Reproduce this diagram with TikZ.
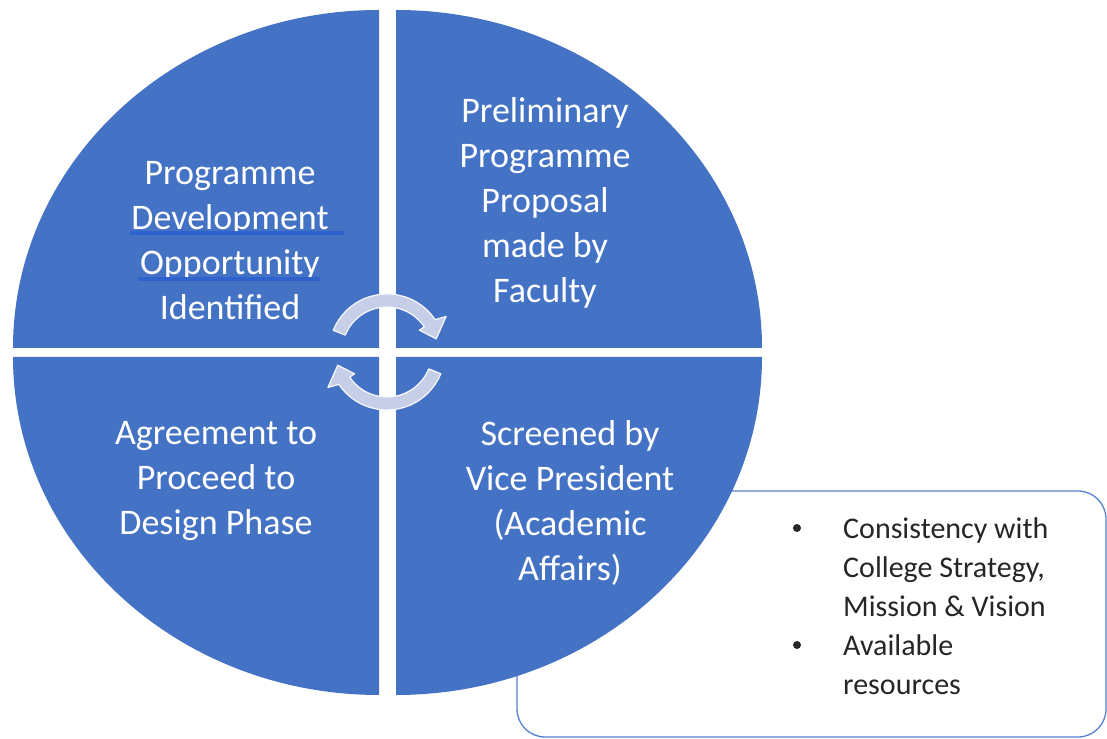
\documentclass[tikz,border=0pt]{standalone}
\usepackage{fontspec}
\setmainfont{Carlito}
\usepackage{tikz}
\definecolor{quadBlue}{HTML}{4472C4}
\definecolor{arrowGrey}{HTML}{C7CEE8}
\definecolor{markBlue}{HTML}{2F62CC}
\definecolor{boxBlue}{HTML}{5581D2}
\definecolor{itemGrey}{HTML}{262626}

\begin{document}
\begin{tikzpicture}
[x=1pt,y=1pt,
  quadDecorate/.style={fill=quadBlue},
  labelDecorate/.style={text=white,align=center,inner sep=0pt,
    font=\fontsize{36}{45}\selectfont},
  arrowDecorate/.style={fill=arrowGrey,draw=white!85!arrowGrey,line width=1.2pt,
    line join=round},
  markDecorate/.style={draw=markBlue,line width=4pt},
  boxDecorate/.style={shape=rectangle,draw=boxBlue,line width=1.3pt,fill=white,
    rounded corners=28pt,minimum width=589pt,minimum height=246pt},
  itemDecorate/.style={text=itemGrey,align=left,inner sep=0pt,anchor=north west,
    font=\fontsize{30}{39}\selectfont},
  bulletDecorate/.style={shape=circle,fill=itemGrey,inner sep=0pt,minimum size=8pt}]
\useasboundingbox (0,0) rectangle (1107,738);
%% callout box behind the circle
\node (criteria) at (811.5,124) [boxDecorate] {};
%% quadrants of the circle
\foreach \qname/\cx/\cy/\sa/\ea in {
  tl/379/390/90/180,
  tr/396/390/0/90,
  bl/379/381/180/270,
  br/396/381/270/360}
{
  \fill[quadDecorate] (\cx,\cy) -- ++(\sa:366 and 338)
    arc[start angle=\sa,end angle=\ea,x radius=366,y radius=338] -- cycle;
}
%% labels
\node (opportunity) at (230,497) [labelDecorate]
  {Programme\\Development\\Opportunity\\Identified};
\node (proposal) at (545,535) [labelDecorate]
  {Preliminary\\Programme\\Proposal\\made by\\Faculty};
\node (agreement) at (216,256.5) [labelDecorate]
  {Agreement to\\Proceed to\\Design Phase};
\node (screened) at (570,234.5) [labelDecorate]
  {Screened by\\Vice President\\(Academic\\Affairs)};
\draw[markDecorate] (130,505) -- (344,505);
\draw[markDecorate] (138,459) -- (320,459);
%% circular arrows
\coordinate (hub) at (387,386);
\filldraw[arrowDecorate] ([shift={(hub)}]158:58)
  arc[start angle=158,end angle=34,radius=58]
  -- ([shift={(hub)}]31:69) -- ([shift={(hub)}]15:51)
  -- ([shift={(hub)}]34:39) -- ([shift={(hub)}]34:45)
  arc[start angle=34,end angle=158,radius=45] -- cycle;
\filldraw[arrowDecorate] ([shift={(hub)}]-22:58)
  arc[start angle=-22,end angle=-146,radius=58]
  -- ([shift={(hub)}]211:69) -- ([shift={(hub)}]195:51)
  -- ([shift={(hub)}]214:39) -- ([shift={(hub)}]214:45)
  arc[start angle=214,end angle=338,radius=45] -- cycle;
%% criteria list
\node (bulletA) at (797,210) [bulletDecorate] {};
\node (bulletB) at (797,93) [bulletDecorate] {};
\node (consistency) at (843,221) [itemDecorate]
  {Consistency with\\College Strategy,\\Mission \& Vision};
\node (resources) at (843,104) [itemDecorate] {Available\\resources};
\end{tikzpicture}
\end{document}
